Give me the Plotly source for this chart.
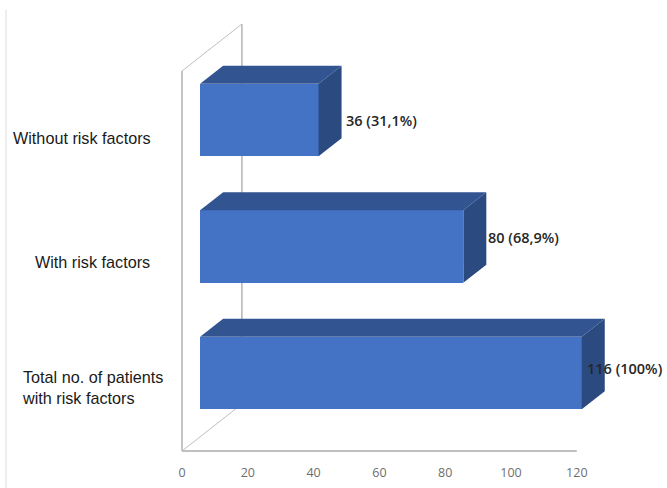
import plotly.graph_objects as go

# Data
categories = ["Total no. of patients<br>with risk factors", "With risk factors", "Without risk factors"]
values = [116, 80, 36]
value_labels = ["116 (100%)", "80 (68,9%)", "36 (31,1%)"]
x_ticks = [0, 20, 40, 60, 80, 100, 120]

# Pseudo-3D geometry, in axis units
positions = [0, 1, 2]
PX_X = 3.29      # pixels per x unit
PX_Y = 126.5     # pixels per category
BAR_START = 5.5
BAR_W = 0.573
DEPTH_X = 7.0
DEPTH_Y = 0.142
WALL_X = 18.2
FLOOR_Y = (373 - 451) / PX_Y
WALL_TOP = (373 - 71) / PX_Y
WALL_RISE = 47 / PX_Y
AXIS_MAX = 120

FRONT = "#4472C4"
TOP = "#325592"
SIDE = "#2A4A80"
GRID = "#BFBFBF"

fig = go.Figure()

# top and right-hand faces
for p, v in zip(positions, values):
    x0, x1 = BAR_START, BAR_START + v
    yt, yb = p + BAR_W / 2, p - BAR_W / 2
    fig.add_trace(go.Scatter(
        x=[x0, x0 + DEPTH_X, x1 + DEPTH_X, x1, x0],
        y=[yt, yt + DEPTH_Y, yt + DEPTH_Y, yt, yt],
        mode="lines", fill="toself", fillcolor=TOP, line=dict(width=0, color=TOP),
        hoverinfo="skip", showlegend=False))
    fig.add_trace(go.Scatter(
        x=[x1, x1 + DEPTH_X, x1 + DEPTH_X, x1, x1],
        y=[yt, yt + DEPTH_Y, yb + DEPTH_Y, yb, yt],
        mode="lines", fill="toself", fillcolor=SIDE, line=dict(width=0, color=SIDE),
        hoverinfo="skip", showlegend=False))

# front faces
fig.add_trace(go.Bar(
    y=positions, x=values, base=BAR_START, orientation="h", width=BAR_W,
    marker=dict(color=FRONT, line=dict(width=0)), showlegend=False, hoverinfo="skip"))

def wall(x0, y0, x1, y1, width=1.5, color=GRID):
    return dict(type="line", xref="x", yref="y", x0=x0, y0=y0, x1=x1, y1=y1,
                layer="below", line=dict(color=color, width=width))

shapes = [
    wall(0, FLOOR_Y, AXIS_MAX, FLOOR_Y, 1.8),
    wall(0, FLOOR_Y, 0, WALL_TOP, 1.8),
    wall(0, WALL_TOP, WALL_X, WALL_TOP + WALL_RISE, 1),
    wall(WALL_X, WALL_TOP + WALL_RISE, WALL_X, FLOOR_Y + WALL_RISE, 1.8),
    wall(0, FLOOR_Y, WALL_X, FLOOR_Y + WALL_RISE, 1),
    dict(type="line", xref="paper", yref="paper",
         x0=(6 - 170) / 497, x1=(6 - 170) / 497, y0=-30 / 458, y1=(458 - 10) / 458,
         line=dict(color="#DDDDDD", width=1)),
]

# value labels
label_dx = [3, 23, 25]
label_dy = [5, 9.5, 0]
annotations = []
for p, v, t, dx, dy in zip(positions, values, value_labels, label_dx, label_dy):
    annotations.append(dict(
        x=BAR_START + v, y=p, text=t, showarrow=False, xanchor="left", yanchor="middle",
        xshift=dx, yshift=dy, font=dict(family="Open Sans", size=14.5, color="#262626", weight=600)))

# category labels
cat_left = [22, 35, 13]
cat_align = ["left", "left", "left"]
cat_y = [387, 262, 138]
for c, xl, al, yp in zip(categories, cat_left, cat_align, cat_y):
    annotations.append(dict(
        xref="paper", yref="paper", x=(xl - 170) / 497, y=(458 - yp) / 458,
        text=c, showarrow=False, xanchor="left", yanchor="middle", align=al, xshift=-2,
        font=dict(family="Liberation Sans", size=16.2, color="#1A1A1A")))

fig.update_layout(
    width=667, height=488, autosize=False,
    margin=dict(l=170, r=0, t=0, b=30),
    paper_bgcolor="white", plot_bgcolor="white",
    shapes=shapes, annotations=annotations, bargap=0,
    xaxis=dict(range=[-12 / PX_X, 485 / PX_X], tickmode="array", tickvals=x_ticks,
               showgrid=False, zeroline=False, showline=False,
               ticks="outside", ticklen=3, tickcolor="rgba(0,0,0,0)",
               tickfont=dict(family="Open Sans", size=12.5, color="#6E6E6E")),
    yaxis=dict(range=[(373 - 458) / PX_Y, 373 / PX_Y], showticklabels=False,
               showgrid=False, zeroline=False, showline=False, ticks=""),
)

fig.write_html("out.html", config={"displayModeBar": False},
               post_script="document.body.style.margin='0';document.documentElement.style.overflow='hidden';")
